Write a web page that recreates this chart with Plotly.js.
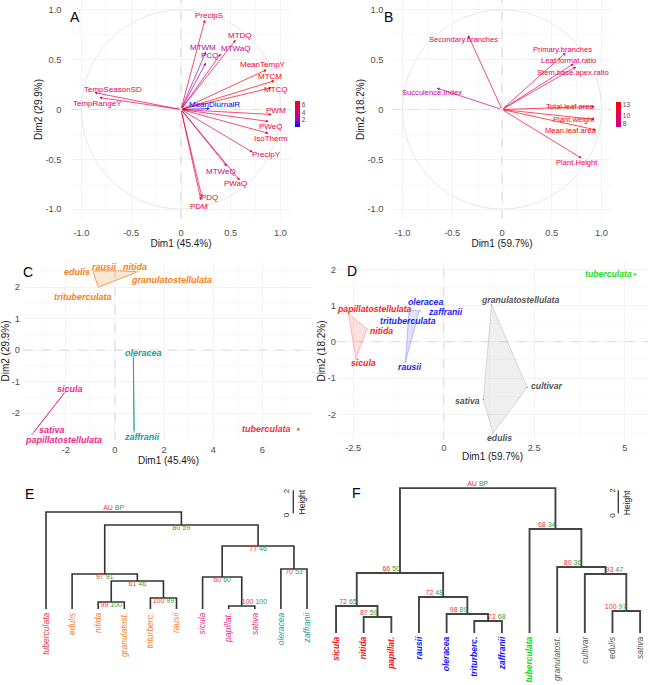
<!DOCTYPE html>
<html><head><meta charset="utf-8">
<script src="https://cdn.plot.ly/plotly-3.0.1.min.js"></script>
<style>body{margin:0;background:#fff}#chart{width:650px;height:685px}</style>
</head><body><div id="chart"></div>
<script>
// ================= DATA =================
// Panel A: PCA variables (climate)
const A_vars = ['PrecipS','MTDQ','MTWM','MTWaQ','PCQ','MeanTempY','MTCM','MTCQ','PWM','PWeQ','IsoTherm','PrecipY','MTWeQ','PWaQ','PDQ','PDM','MeanDiurnalR','TempSeasonSD','TempRangeY'];
const A_dim1 = [0.24,0.55,0.25,0.40,0.25,0.86,0.94,0.91,0.91,0.88,0.88,0.72,0.46,0.59,0.21,0.20,0.29,-0.87,-0.82];
const A_dim2 = [0.90,0.70,0.58,0.56,0.47,0.40,0.29,0.22,-0.05,-0.12,-0.24,-0.43,-0.57,-0.71,-0.88,-0.91,0.01,0.17,0.12];
const A_contrib = [6.1,5.5,2.8,3.3,2.0,6.3,7.0,6.1,5.8,5.5,5.9,4.9,3.7,6.0,5.7,6.1,0.2,5.5,4.8];
const A_ticks = [2,4,6];

// Panel B: PCA variables (morphology)
const B_vars = ['Secondary.branches','Primary.branches','Leaf.format.ratio','Stem.base.apex.ratio','Succulence.Index','Total.leaf.area','Plant.weight','Mean.leaf.area','Plant.Height'];
const B_dim1 = [-0.34,0.64,0.72,0.745,-0.655,0.93,0.93,0.945,0.80];
const B_dim2 = [0.745,0.57,0.46,0.43,0.215,0.03,-0.10,-0.205,-0.49];
const B_contrib = [9.6,10.5,10.4,10.6,7.0,12.4,12.5,13.8,12.6];
const B_ticks = [8,10,13];

// Panel C: individuals (climate PCA)
const C_names = ['edulis','rausii','nitida','granulatostellulata','trituberculata','sicula','sativa','papillatostellulata','oleracea','zaffranii','tuberculata'];
const C_group = [0,0,0,0,0,1,1,1,2,2,3];
const C_dim1 = [-0.90,0.14,0.91,0.93,-0.68,-2.03,-3.35,-3.37,0.75,0.78,7.46];
const C_dim2 = [2.52,2.52,2.50,2.49,2.00,-1.33,-2.64,-2.67,-0.20,-2.60,-2.51];

// Panel D: individuals (morphology PCA)
const D_names = ['papillatostellulata','nitida','sicula','oleracea','zaffranii','trituberculata','rausii','granulatostellulata','cultivar','sativa','edulis','tuberculata'];
const D_group = [0,0,0,1,1,1,1,2,2,2,2,3];
const D_dim1 = [-2.64,-2.12,-2.43,-0.96,-0.68,-0.94,-1.06,1.32,2.30,1.09,1.36,5.28];
const D_dim2 = [0.79,0.35,-0.46,0.88,0.85,0.77,-0.55,1.02,-1.26,-1.59,-2.52,1.86];

// Panel E: cluster dendrogram (climate), leaves in plotting order
const E_leaves = ['tuberculata','edulis','nitida','granulatost.','triturberc.','rausii','sicula','papillat.','sativa','oleracea','zaffranii'];
const E_leafGroup = [3,0,0,0,0,0,1,1,1,2,2];
const E_merge = [[-3,-4],[-5,-6],[1,2],[-2,3],[-8,-9],[-7,5],[-10,-11],[6,7],[4,8],[-1,9]];
const E_height = [0.61,0.96,2.43,3.04,0.26,2.78,3.48,5.48,7.30,8.43];
const E_au = [99,100,61,97,100,60,70,77,80,'AU'];
const E_bp = [100,99,46,91,100,60,53,46,59,'BP'];

// Panel F: cluster dendrogram (morphology)
const F_leaves = ['sicula','nitida','papillat.','rausii','oleracea','triturberc.','zaffranii','tuberculata','granulatost.','cultivar','edulis','sativa'];
const F_leafGroup = [0,0,0,1,1,1,1,3,2,2,2,2];
const F_merge = [[-2,-3],[-1,1],[-6,-7],[-5,3],[-4,4],[2,5],[-11,-12],[-10,7],[-9,8],[-8,9],[6,10]];
const F_height = [1.39,2.35,1.04,1.65,3.13,5.22,1.91,5.13,5.74,9.04,12.6];
const F_au = [87,72,72,98,72,66,100,93,80,68,'AU'];
const F_bp = [59,65,68,89,48,50,97,47,36,34,'BP'];
const SCALE_LEN = 2;

// ================= STYLE =================
const FONT = 'Liberation Sans, Arial, Helvetica, sans-serif';
const W = 650, H = 685;
const px = v => v / W, py = v => 1 - v / H;
const A_scale = [[0,'#0000FF'],[0.25,'#9A00C3'],[0.5,'#C90089'],[0.75,'#E80050'],[1,'#FF0000']];
const B_scale = [[0,'#C90089'],[0.5,'#E80050'],[1,'#FF0000']];
const C_colors = ['#F67F1C','#EC2A8C','#1E9A98','#E8383C'];
const C_fill = ['rgba(246,127,28,0.18)','rgba(236,42,140,0.18)','rgba(30,154,152,0.18)','rgba(232,56,60,0.18)'];
const D_colors = ['#FF1A1A','#1A1AFF','#555555','#22E022'];
const D_fill = ['rgba(255,60,60,0.16)','rgba(60,60,255,0.16)','rgba(140,140,140,0.14)','rgba(34,224,34,0.16)'];
const D_line = ['rgba(255,80,80,0.45)','rgba(80,80,255,0.45)','rgba(150,150,150,0.45)','rgba(34,224,34,0.5)'];
const F_colors = ['#FF1010','#1010FF','#555555','#10DD10'];
const AU_COL = '#E8383C', BP_COL = '#3C9A3C';

// label offsets from their point, in pixels [right, down]
const A_off = [[4,-4],[4,-4.3],[-2.7,-4],[14.3,-5.3],[3.3,-7],[-3.7,-5],[-5,-4],[4.7,2.3],[4,-4],[1.7,4.7],[2.7,4.7],[13.7,2],[-5.3,5.7],[-4,3.3],[8,0.3],[-1.7,6],[4.7,-3.7],[18.7,-3],[-1.7,5.7]];
const B_off = [[-4.6,4.3],[-3,-3.4],[-4.9,-3.3],[-3.4,5.4],[-5,4.1],[-25,-0.3],[-20.7,0],[-25.5,0.6],[-4.4,4.6]];
const C_off = [[-15.7,1],[-14,-4.3],[-2.3,-4],[33.7,8],[-15,9.4],[5,-3],[19.4,-3.5],[31.3,5.5],[10,-3.4],[7.7,4.4],[-31.6,-0.3]];
const D_off = [[26,-3.8],[14.4,2],[7.3,5],[16,-8],[26,1],[-2,7.5],[4.3,5.6],[28.3,-4.3],[20.4,-1.6],[-15.6,1.7],[6.7,4.4],[-26,0]];
const E_pos = ['bottom center','bottom center','bottom center','bottom center','top right','bottom center','bottom center','bottom center','bottom center','top center'];
const F_pos = ['top left','top left','top right','top left','top left','top left','top left','top right','top left','top left','top center'];

// ================= HELPERS =================
function hex2rgb(h){h=h.replace('#','');return [parseInt(h.substr(0,2),16),parseInt(h.substr(2,2),16),parseInt(h.substr(4,2),16)];}
function colorAt(scale,t){
  t=Math.max(0,Math.min(1,t));
  for(let i=1;i<scale.length;i++){
    if(t<=scale[i][0]){
      const a=hex2rgb(scale[i-1][1]),b=hex2rgb(scale[i][1]);
      const f=(t-scale[i-1][0])/(scale[i][0]-scale[i-1][0]);
      return 'rgb('+a.map((v,k)=>Math.round(v+(b[k]-v)*f)).join(',')+')';
    }
  }
  return scale[scale.length-1][1];
}
function hull(pts){
  const p=pts.slice().sort((a,b)=>a[0]-b[0]||a[1]-b[1]);
  if(p.length<3) return p;
  const cr=(o,a,b)=>(a[0]-o[0])*(b[1]-o[1])-(a[1]-o[1])*(b[0]-o[0]);
  const lo=[],up=[];
  for(const q of p){while(lo.length>=2&&cr(lo[lo.length-2],lo[lo.length-1],q)<=0)lo.pop();lo.push(q);}
  for(let i=p.length-1;i>=0;i--){const q=p[i];while(up.length>=2&&cr(up[up.length-2],up[up.length-1],q)<=0)up.pop();up.push(q);}
  up.pop();lo.pop();return lo.concat(up);
}
function dendro(merge,heights){
  const nx=[],nh=[],xs=[],ys=[];
  const pos=c=>c<0?{x:-c-1,h:0}:{x:nx[c-1],h:nh[c-1]};
  merge.forEach((m,i)=>{
    const a=pos(m[0]),b=pos(m[1]),h=heights[i];
    xs.push(a.x,a.x,b.x,b.x,null); ys.push(a.h,h,h,b.h,null);
    nx.push((a.x+b.x)/2); nh.push(h);
  });
  return {xs,ys,nx,nh};
}

const traces=[], annotations=[], shapes=[];
function label(xa,ya,x,y,t,off,font){
  annotations.push({xref:xa,yref:ya,x:x,y:y,text:t,showarrow:false,xanchor:'center',yanchor:'middle',
    xshift:off[0],yshift:-off[1],font:font});
}

// ---------- A & B: variable correlation circles ----------
function varPanel(xa,ya,vars,d1,d2,contrib,scale,off,cb,ticks,fsize){
  const cmin=Math.min(...contrib), cmax=Math.max(...contrib);
  const cols=contrib.map(v=>colorAt(scale,(v-cmin)/(cmax-cmin)));
  shapes.push({type:'circle',xref:xa,yref:ya,x0:-1,x1:1,y0:-1,y1:1,line:{color:'#DCDCDC',width:0.7},layer:'below'});
  vars.forEach((v,i)=>annotations.push({xref:xa,yref:ya,axref:xa,ayref:ya,x:d1[i],y:d2[i],ax:0,ay:0,text:'',showarrow:true,arrowhead:2,arrowsize:0.8,arrowwidth:0.7,arrowcolor:cols[i],standoff:0,startstandoff:0}));
  vars.forEach((v,i)=>label(xa,ya,d1[i],d2[i],v,off[i],{family:FONT,size:fsize,color:cols[i]}));
  traces.push({type:'scatter',mode:'markers',x:d1,y:d2,xaxis:xa,yaxis:ya,hoverinfo:'skip',showlegend:false,
    marker:{size:1,opacity:0,color:contrib,cmin:cmin,cmax:cmax,colorscale:scale,showscale:true,
      colorbar:Object.assign({xanchor:'left',yanchor:'middle',xpad:0,ypad:0,lenmode:'pixels',thicknessmode:'pixels',thickness:5,outlinewidth:0,
        tickvals:ticks,ticktext:ticks.map(String),ticks:'',tickfont:{family:FONT,size:6.5,color:'#4D4D4D'}},cb)}});
}
varPanel('x','y',A_vars,A_dim1,A_dim2,A_contrib,A_scale,A_off,{x:px(295),y:py(114),len:26},A_ticks,8);
varPanel('x2','y2',B_vars,B_dim1,B_dim2,B_contrib,B_scale,B_off,{x:px(616),y:py(114.5),len:25},B_ticks,7.6);

// ---------- C & D: individuals with group hulls ----------
function indPanel(xa,ya,names,grp,d1,d2,cols,fills,lines,off,fs){
  const ng=Math.max(...grp)+1;
  for(let g=0;g<ng;g++){
    const pts=[];grp.forEach((v,i)=>{if(v===g)pts.push([d1[i],d2[i]]);});
    if(pts.length<2) continue;
    const h=hull(pts); h.push(h[0]);
    traces.push({type:'scatter',mode:'lines',x:h.map(p=>p[0]),y:h.map(p=>p[1]),xaxis:xa,yaxis:ya,fill:'toself',
      fillcolor:fills[g],line:{color:lines[g],width:0.8},hoverinfo:'skip',showlegend:false});
  }
  traces.push({type:'scatter',mode:'markers',x:d1,y:d2,xaxis:xa,yaxis:ya,cliponaxis:false,
    marker:{size:grp.map(g=>g===3?4:2.2),color:grp.map(g=>cols[g])},hoverinfo:'skip',showlegend:false});
  names.forEach((n,i)=>label(xa,ya,d1[i],d2[i],n,off[i],{family:FONT,size:fs,color:cols[grp[i]],weight:'bold',style:'italic'}));
}
indPanel('x3','y3',C_names,C_group,C_dim1,C_dim2,C_colors,C_fill,C_colors,C_off,9);
indPanel('x4','y4',D_names,D_group,D_dim1,D_dim2,D_colors,D_fill,D_line,D_off,8.7);

// ---------- E & F: dendrograms ----------
function dendPanel(xa,ya,merge,heights,au,bp,pos,lw,lc){
  const d=dendro(merge,heights);
  traces.push({type:'scatter',mode:'lines',x:d.xs,y:d.ys,xaxis:xa,yaxis:ya,line:{color:lc,width:lw},hoverinfo:'skip',showlegend:false});
  const txt=au.map((a,i)=>'<span style="color:'+AU_COL+'">'+a+'</span> <span style="color:'+BP_COL+'">'+bp[i]+'</span>');
  traces.push({type:'scatter',mode:'text',x:d.nx,y:d.nh,text:txt,textposition:pos,xaxis:xa,yaxis:ya,cliponaxis:false,
    textfont:{family:FONT,size:7},hoverinfo:'skip',showlegend:false});
}
dendPanel('x5','y5',E_merge,E_height,E_au,E_bp,E_pos,1.6,'#333333');
dendPanel('x6','y6',F_merge,F_height,F_au,F_bp,F_pos,1.9,'#444444');

// scale bars (Height = SCALE_LEN)
const E_bar = {x:9.475,y:8.32}, F_bar = {x:10.21,y:10.41};
traces.push({type:'scatter',mode:'lines',x:[E_bar.x,E_bar.x],y:[E_bar.y,E_bar.y+SCALE_LEN],xaxis:'x5',yaxis:'y5',line:{color:'#333',width:1.3},hoverinfo:'skip',showlegend:false});
traces.push({type:'scatter',mode:'lines',x:[F_bar.x,F_bar.x],y:[F_bar.y,F_bar.y+SCALE_LEN],xaxis:'x6',yaxis:'y6',line:{color:'#333',width:1.3},hoverinfo:'skip',showlegend:false});
function rot(t,x,y,s){annotations.push({xref:'paper',yref:'paper',x:px(x),y:py(y),text:t,showarrow:false,textangle:-90,xanchor:'center',yanchor:'middle',font:{family:FONT,size:s,color:'#222'}});}
rot('0',286.7,514.5,8); rot(String(SCALE_LEN),286.7,490.5,8); rot('Height',301.7,501.7,8.5);
rot('0',612.3,515.5,8); rot(String(SCALE_LEN),612.3,490.5,8); rot('Height',626.7,502.5,8.5);

// panel letters
[['A',74.5,16.7],['B',388.5,17],['C',28.3,272],['D',351.7,270.8],['E',29.2,494.3],['F',356,493.3]].forEach(l=>
  annotations.push({xref:'paper',yref:'paper',x:px(l[1]),y:py(l[2]),text:l[0],showarrow:false,xanchor:'center',yanchor:'middle',font:{family:FONT,size:14,color:'#000'}}));

// dashed reference lines at 0
[['x','y'],['x2','y2'],['x3','y3'],['x4','y4']].forEach(a=>{
  shapes.push({type:'line',xref:a[0],yref:a[1]+' domain',x0:0,x1:0,y0:0,y1:1,line:{color:'#A8A8A8',width:0.6,dash:'dash'},layer:'below'});
  shapes.push({type:'line',xref:a[0]+' domain',yref:a[1],x0:0,x1:1,y0:0,y1:0,line:{color:'#A8A8A8',width:0.6,dash:'dash'},layer:'below'});
});

// ================= AXES =================
function ax(o){
  return Object.assign({showline:false,zeroline:false,ticks:'',showgrid:true,gridcolor:'#EBEBEB',gridwidth:0.6,fixedrange:true,
    tickfont:{family:FONT,size:9.3,color:'#4D4D4D'},tickmode:'array'},o);
}
function minor(v){return {tickvals:v,showgrid:true,gridcolor:'#F4F4F4',gridwidth:0.5,ticks:''};}
const t1 = [-1,-0.5,0,0.5,1], t1t=['-1.0','-0.5','0','0.5','1.0'], m1=[-0.75,-0.25,0.25,0.75];
const ttl = (t)=>({text:t,font:{family:FONT,size:10,color:'#1A1A1A'},standoff:0});
const dendX = (leaves,grpCols,grp,bold)=>({
  tickmode:'array',tickvals:leaves.map((_,i)=>i),
  ticktext:leaves.map((n,i)=>{const c=grpCols[grp[i]];const b=bold&&grp[i]!==2;return '<span style="color:'+c+'">'+(b?'<b><i>'+n+'</i></b>':'<i>'+n+'</i>')+'</span>';}),
  tickangle:-90,ticks:'',showgrid:false,zeroline:false,showline:false,fixedrange:true,ticklabelstandoff:1,
  tickfont:{family:FONT,size:8.5,color:'#333'}});

const layout = {
  width:W,height:H,margin:{l:0,r:0,t:0,b:0,pad:0},paper_bgcolor:'#fff',plot_bgcolor:'#fff',showlegend:false,
  font:{family:FONT},
  xaxis: ax({domain:[px(71.5),px(290.5)],range:[-1.1,1.1],anchor:'y',tickvals:t1,ticktext:t1t,minor:minor(m1),ticklabelstandoff:7,title:ttl('Dim1 (45.4%)')}),
  yaxis: ax({domain:[py(219),1],range:[-1.1,1.1],anchor:'x',tickvals:t1,ticktext:t1t,minor:minor(m1),ticklabelstandoff:9,title:ttl('Dim2 (29.9%)')}),
  xaxis2: ax({domain:[px(392.5),px(611.5)],range:[-1.1,1.1],anchor:'y2',tickvals:t1,ticktext:t1t,minor:minor(m1),ticklabelstandoff:7,title:ttl('Dim1 (59.7%)')}),
  yaxis2: ax({domain:[py(219),1],range:[-1.1,1.1],anchor:'x2',tickvals:t1,ticktext:t1t,minor:minor(m1),ticklabelstandoff:8,title:ttl('Dim2 (18.2%)')}),
  xaxis3: ax({domain:[px(24),px(313)],range:[-3.70,8.06],anchor:'y3',tickvals:[-2,0,2,4,6],ticktext:['-2','0','2','4','6'],minor:minor([-3,-1,1,3,5,7]),ticklabelstandoff:3,title:ttl('Dim1 (45.4%)')}),
  yaxis3: ax({domain:[py(440),py(262)],range:[-2.85,2.80],anchor:'x3',tickvals:[-2,-1,0,1,2],ticktext:['-2','-1','0','1','2'],minor:minor([-2.5,-1.5,-0.5,0.5,1.5,2.5]),ticklabelstandoff:3,title:ttl('Dim2 (29.9%)')}),
  xaxis4: ax({domain:[px(337),px(648)],range:[-2.95,5.64],anchor:'y4',tickvals:[-2.5,0,2.5,5],ticktext:['-2.5','0','2.5','5'],minor:minor([-1.25,1.25,3.75]),ticklabelstandoff:1,title:ttl('Dim1 (59.7%)')}),
  yaxis4: ax({domain:[py(440),py(262)],range:[-2.71,2.20],anchor:'x4',tickvals:[-2,-1,0,1,2],ticktext:['-2','-1','0','1','2'],minor:minor([-2.5,-1.5,-0.5,0.5,1.5]),ticklabelstandoff:0,title:ttl('Dim2 (18.2%)')}),
  xaxis5: Object.assign({domain:[px(32.95),px(320.05)],range:[-0.5,10.5],anchor:'y5'},dendX(E_leaves,C_colors,E_leafGroup,false)),
  yaxis5: {domain:[py(609),py(487.1)],range:[0,10.6],anchor:'x5',visible:false,fixedrange:true},
  xaxis6: Object.assign({domain:[px(323.6),px(649.8)],range:[-0.45,11.35],anchor:'y6'},dendX(F_leaves,F_colors,F_leafGroup,true)),
  yaxis6: {domain:[py(633),py(477.75)],range:[0,13.5],anchor:'x6',visible:false,fixedrange:true},
  shapes:shapes, annotations:annotations
};

Plotly.newPlot('chart',traces,layout,{displayModeBar:false,staticPlot:true});
</script></body></html>
